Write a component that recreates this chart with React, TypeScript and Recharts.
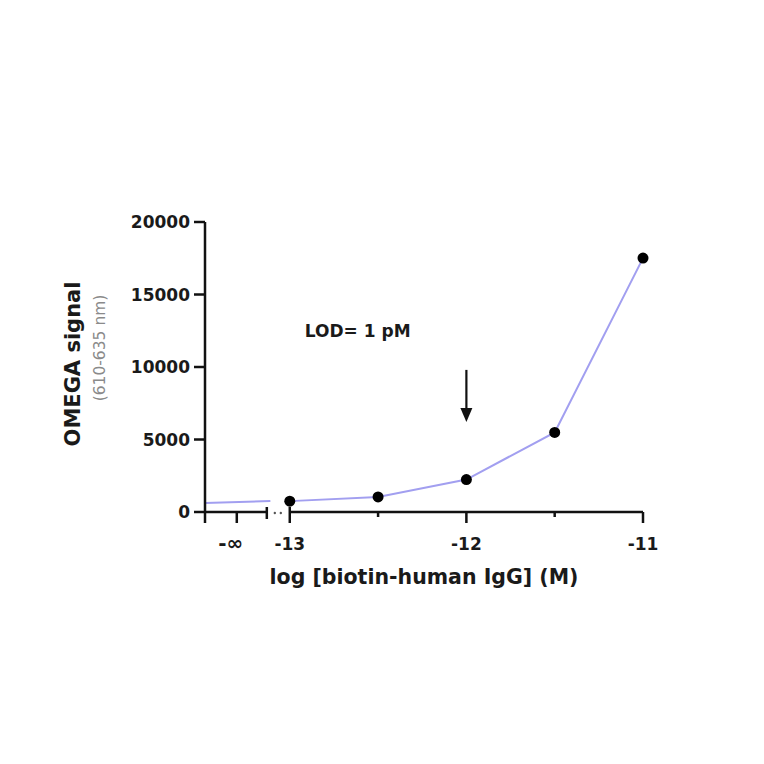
import {
    ComposedChart,
    Line,
    XAxis,
    YAxis,
    ReferenceLine,
    ReferenceDot,
} from "recharts";

// log concentration (M) and signal
const LOG_CONC = [-13, -12.5, -12, -11.5, -11];
const SIGNAL = [750, 1040, 2240, 5490, 17510];

// the "-inf" piece left of the axis break
const ZERO_X = [-13.48, -13.11];
const ZERO_SIGNAL = [620, 760];

const Y_TICKS = [0, 5000, 10000, 15000, 20000];
const X_MIN = -13.48;
const X_MAX = -11;
const NEG_INF_AT = -13.3;
const BREAK_AT = -13.13;
const X_TICKS = [X_MIN, NEG_INF_AT, BREAK_AT, -13, -12.5, -12, -11.5, -11];
const X_LABELS: Record<string, string> = {
    "-13.3": "-∞",
    "-13": "-13",
    "-12": "-12",
    "-11": "-11",
};
const X_TITLE = "log [biotin-human IgG] (M)";

const LOD_TEXT = "LOD= 1 pM";
const LOD_POS = { x: -12.915, y: 12070 };
const ARROW_FROM = 9800;
const ARROW_TO = 6200;

const FONT = "'DejaVu Sans', Arial, sans-serif";
const LINE_COLOR = "#a29ff0";
const INK = "#111";

const mainData = LOG_CONC.map((x, i) => ({ x, y: SIGNAL[i] }));
const zeroData = ZERO_X.map((x, i) => ({ x, y: ZERO_SIGNAL[i] }));

function XTick(props: any) {
    const { x, y, payload } = props;
    const v = payload.value;
    const label = X_LABELS[String(v)];

    if (v === X_MIN) {
        return <line x1={x} y1={y} x2={x} y2={y + 11} stroke={INK} strokeWidth={2.5} />;
    }
    if (v === BREAK_AT) {
        return (
            <g>
                <line x1={x} y1={y - 5} x2={x} y2={y + 7} stroke={INK} strokeWidth={2.5} />
                <circle cx={x + 8} cy={y + 1} r={1.2} fill="#555" />
                <circle cx={x + 14} cy={y + 1} r={1.2} fill="#555" />
            </g>
        );
    }
    const minor = !label;
    const isInf = v === NEG_INF_AT;
    return (
        <g>
            <line
                x1={x}
                y1={v === -13 ? y - 5 : y}
                x2={x}
                y2={y + (minor ? 5 : 11)}
                stroke={INK}
                strokeWidth={2.5}
            />
            {label && (
                <text
                    x={isInf ? x - 6 : x}
                    y={y + 38}
                    textAnchor="middle"
                    fontFamily={FONT}
                    fontWeight="bold"
                    fontSize={isInf ? 20 : 17}
                    fill="#1a1a1a"
                >
                    {label}
                </text>
            )}
        </g>
    );
}

function XTitle(props: any) {
    const { viewBox } = props;
    return (
        <text
            x={viewBox.x + viewBox.width / 2}
            y={viewBox.y + 72}
            textAnchor="middle"
            fontFamily={FONT}
            fontWeight="bold"
            fontSize={20.5}
            fill="#1a1a1a"
        >
            {X_TITLE}
        </text>
    );
}

function YLabel(props: any) {
    const { viewBox } = props;
    const cy = viewBox.y + viewBox.height / 2 - 3;
    const x1 = viewBox.x - 65;
    const x2 = viewBox.x - 40;
    return (
        <g>
            <text
                x={x1}
                y={cy}
                transform={`rotate(-90, ${x1}, ${cy})`}
                textAnchor="middle"
                fontFamily={FONT}
                fontWeight="bold"
                fontSize={21}
                fill="#1a1a1a"
            >
                OMEGA signal
            </text>
            <text
                x={x2}
                y={cy - 16}
                transform={`rotate(-90, ${x2}, ${cy - 16})`}
                textAnchor="middle"
                fontFamily={FONT}
                fontSize={15.5}
                fill="#8a8a8a"
            >
                (610-635 nm)
            </text>
        </g>
    );
}

function Arrow(props: any) {
    const { x1, y1, y2 } = props;
    return (
        <g>
            <line x1={x1} y1={y1} x2={x1} y2={y2 - 10} stroke={INK} strokeWidth={2.2} />
            <polygon points={`${x1 - 6},${y2 - 14} ${x1 + 6},${y2 - 14} ${x1},${y2}`} fill={INK} />
        </g>
    );
}

export default function App() {
    return (
        <ComposedChart
            width={748}
            height={748}
            margin={{ top: 214, right: 113, bottom: 184, left: 137 }}
        >
            <XAxis
                type="number"
                dataKey="x"
                domain={[X_MIN, X_MAX]}
                ticks={X_TICKS}
                interval={0}
                axisLine={false}
                tickLine={false}
                tickSize={0}
                tickMargin={0}
                height={60}
                tick={<XTick />}
                label={<XTitle />}
            />
            <YAxis
                type="number"
                domain={[0, 20000]}
                ticks={Y_TICKS}
                interval={0}
                width={60}
                axisLine={{ stroke: INK, strokeWidth: 2.5 }}
                tickLine={{ stroke: INK, strokeWidth: 2.5 }}
                tickSize={11}
                tickMargin={4}
                tick={{ fontFamily: FONT, fontWeight: "bold", fontSize: 17, fill: "#1a1a1a" }}
                label={<YLabel />}
            />

            <ReferenceLine
                segment={[{ x: X_MIN, y: 0 }, { x: BREAK_AT, y: 0 }]}
                stroke={INK}
                strokeWidth={2.5}
                ifOverflow="visible"
            />
            <ReferenceLine
                segment={[{ x: -13, y: 0 }, { x: X_MAX, y: 0 }]}
                stroke={INK}
                strokeWidth={2.5}
                ifOverflow="visible"
            />

            <Line
                data={zeroData}
                dataKey="y"
                stroke={LINE_COLOR}
                strokeWidth={2}
                dot={false}
                isAnimationActive={false}
            />
            <Line
                data={mainData}
                dataKey="y"
                stroke={LINE_COLOR}
                strokeWidth={2}
                dot={{ r: 5.5, fill: "#000", stroke: "#000", strokeWidth: 0 }}
                isAnimationActive={false}
            />

            <ReferenceLine
                segment={[{ x: -12, y: ARROW_FROM }, { x: -12, y: ARROW_TO }]}
                ifOverflow="visible"
                shape={<Arrow />}
            />
            <ReferenceDot
                x={LOD_POS.x}
                y={LOD_POS.y}
                r={0}
                ifOverflow="visible"
                shape={(p: any) => (
                    <text
                        x={p.cx}
                        y={p.cy}
                        fontFamily={FONT}
                        fontWeight="bold"
                        fontSize={17}
                        fill="#1a1a1a"
                    >
                        {LOD_TEXT}
                    </text>
                )}
            />
        </ComposedChart>
    );
}
